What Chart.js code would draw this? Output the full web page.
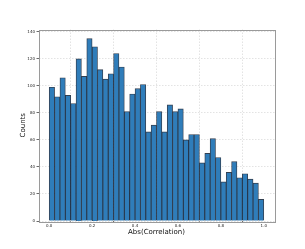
<!DOCTYPE html>
<html>
<head>
<meta charset="utf-8">
<script src="https://cdn.jsdelivr.net/npm/chart.js@4/dist/chart.umd.min.js"></script>
<style>
html,body{margin:0;padding:0;background:#fff;}
#wrap{width:305px;height:249px;position:relative;}
</style>
</head>
<body>
<div id="wrap"><canvas id="c" width="305" height="249"></canvas></div>
<script>
const binCenters = [0.0125,0.0375,0.0625,0.0875,0.1125,0.1375,0.1625,0.1875,0.2125,0.2375,
  0.2625,0.2875,0.3125,0.3375,0.3625,0.3875,0.4125,0.4375,0.4625,0.4875,
  0.5125,0.5375,0.5625,0.5875,0.6125,0.6375,0.6625,0.6875,0.7125,0.7375,
  0.7625,0.7875,0.8125,0.8375,0.8625,0.8875,0.9125,0.9375,0.9625,0.9875];
const counts = [99,92,106,93,87,120,107,135,129,112,
  105,109,124,114,81,94,98,101,66,71,
  81,66,86,81,83,60,64,64,43,50,
  61,47,29,36,44,32,35,31,28,16];
const xTicks = [0.0,0.2,0.4,0.6,0.8,1.0];
const yTicks = [0,20,40,60,80,100,120,140];
const xTitle = 'Abs(Correlation)';
const yTitle = 'Counts';

const points = binCenters.map((x,i)=>({x:x, y:counts[i]}));

const frame = {
  id:'frame',
  afterDraw(chart){
    const a = chart.chartArea, ctx = chart.ctx;
    ctx.save();
    ctx.strokeStyle = '#9a9a9a';
    ctx.lineWidth = 1;
    ctx.strokeRect(Math.round(a.left)+0.5, Math.round(a.top)+0.5, Math.round(a.right-a.left), Math.round(a.bottom-a.top));
    ctx.restore();
  }
};

new Chart(document.getElementById('c'), {
  type:'bar',
  data:{datasets:[{
    data:points,
    backgroundColor:'#2f7dba',
    borderColor:'rgba(15,30,50,0.85)',
    borderWidth:0.9,
    barPercentage:1,
    categoryPercentage:1
  }]},
  options:{
    responsive:false,
    animation:false,
    devicePixelRatio:1,
    layout:{padding:{left:19,right:30.5,top:29.5,bottom:12.5}},
    plugins:{legend:{display:false},tooltip:{enabled:false}},
    scales:{
      x:{
        type:'linear', min:-0.05, max:1.05, offset:false,
        afterBuildTicks(s){ s.ticks = xTicks.map(v=>({value:v})); },
        afterFit(s){ s.height = 15.5; },
        grid:{color:'#dcdcdc', lineWidth:0.8, drawTicks:true, tickLength:2, tickColor:'#444', tickWidth:0.8},
        border:{display:false, dash:[1.5,1.5]},
        ticks:{font:{family:'DejaVu Sans', size:4}, color:'#222', padding:1, maxRotation:0,
          callback:(v)=>Number(v).toFixed(1)},
        title:{display:true, text:xTitle, font:{family:'DejaVu Sans', size:7}, color:'#111', padding:0}
      },
      y:{
        min:0, max:141.75,
        afterBuildTicks(s){ s.ticks = yTicks.map(v=>({value:v})); },
        afterFit(s){ s.width = 19.5; },
        grid:{color:'#dcdcdc', lineWidth:0.8, drawTicks:true, tickLength:2, tickColor:'#444', tickWidth:0.8},
        border:{display:false, dash:[1.5,1.5]},
        ticks:{font:{family:'DejaVu Sans', size:4}, color:'#222', padding:1.5},
        title:{display:true, text:yTitle, font:{family:'DejaVu Sans', size:7}, color:'#111', padding:0}
      }
    }
  },
  plugins:[frame]
});
</script>
</body>
</html>
